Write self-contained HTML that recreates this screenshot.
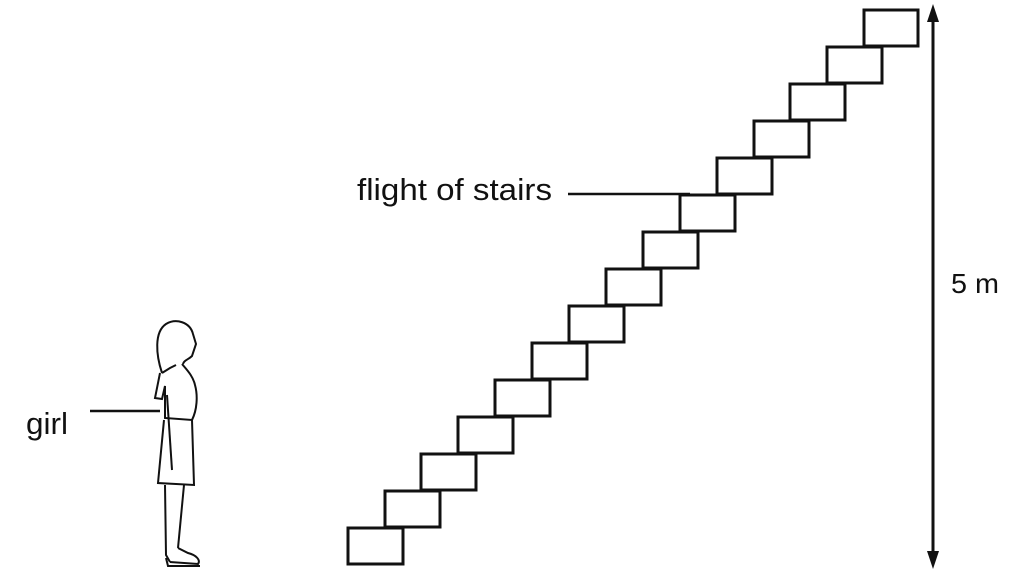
<!DOCTYPE html>
<html><head><style>
body{margin:0;background:#fff;width:1024px;height:573px;overflow:hidden}
svg{display:block}
text{font-family:"Liberation Sans",sans-serif;fill:#111}
</style></head><body>
<svg width="1024" height="573" viewBox="0 0 1024 573">
<g fill="none" stroke="#111" stroke-width="3">
<rect x="348" y="528" width="55" height="36"/>
<rect x="385" y="491" width="55" height="36"/>
<rect x="421" y="454" width="55" height="36"/>
<rect x="458" y="417" width="55" height="36"/>
<rect x="495" y="380" width="55" height="36"/>
<rect x="532" y="343" width="55" height="36"/>
<rect x="569" y="306" width="55" height="36"/>
<rect x="606" y="269" width="55" height="36"/>
<rect x="643" y="232" width="55" height="36"/>
<rect x="680" y="195" width="55" height="36"/>
<rect x="717" y="158" width="55" height="36"/>
<rect x="754" y="121" width="55" height="36"/>
<rect x="790" y="84" width="55" height="36"/>
<rect x="827" y="47" width="55" height="36"/>
<rect x="864" y="10" width="54" height="36"/>
</g>
<line x1="933" y1="16" x2="933" y2="556" stroke="#111" stroke-width="3"/>
<polygon points="933,4 927,22 939,22" fill="#111"/>
<polygon points="933,569 927,551 939,551" fill="#111"/>
<text x="951" y="293" font-size="28" textLength="48" lengthAdjust="spacingAndGlyphs">5 m</text>
<text x="357" y="200" font-size="31" textLength="195" lengthAdjust="spacingAndGlyphs">flight of stairs</text>
<line x1="568" y1="194" x2="690" y2="194" stroke="#111" stroke-width="2.5"/>
<text x="26" y="434" font-size="31" textLength="42" lengthAdjust="spacingAndGlyphs">girl</text>
<line x1="90" y1="411" x2="160" y2="411" stroke="#111" stroke-width="2.5"/>
<g fill="none" stroke="#111" stroke-width="2">
<path d="M162,373 C156,355 154,332 166,324 C176,318 190,322 193,334 L196,344 L194,350 L192,356 C188,360 184,360 183,364"/>
<path d="M162,373 L170,368 L176,365"/>
<path d="M160,373 L155,398 L162,399 L165,386 L165,418 L192,420 C197,410 198,396 195,385 C193,376 187,370 182,364"/>
<path d="M164,420 L158,483 L194,485 L192,420"/>
<path d="M167,395 L172,470"/>
<path d="M165,485 L166,555 L170,562"/>
<path d="M184,485 L178,548"/>
<path d="M170,562 L198,564 C201,560 196,555 188,553 L178,548"/>
<path d="M166,558 L168,566 L200,566"/>
</g>
</svg>
</body></html>
